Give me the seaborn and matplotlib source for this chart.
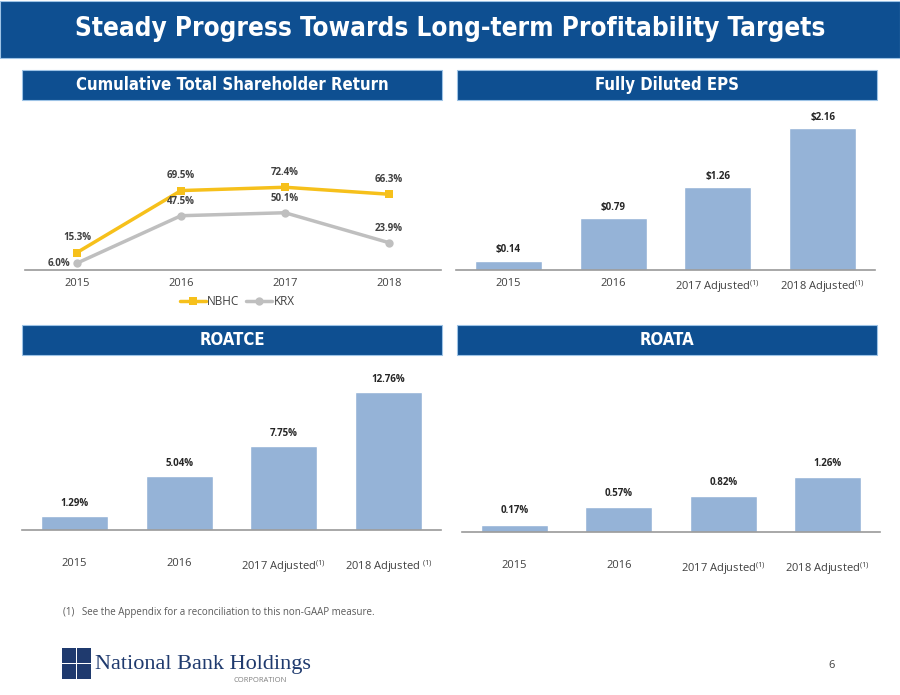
import matplotlib
matplotlib.use('Agg')
import matplotlib.pyplot as plt
from matplotlib.patches import Rectangle
import seaborn as sns
import pandas as pd

# Data
tsr_years = ['2015', '2016', '2017', '2018']
nbhc_tsr = [15.3, 69.5, 72.4, 66.3]
krx_tsr = [6.0, 47.5, 50.1, 23.9]

bar_years = ['2015', '2016', '2017 Adjusted', '2018 Adjusted']
eps = [0.14, 0.79, 1.26, 2.16]
roatce = [1.29, 5.04, 7.75, 12.76]
roata = [0.17, 0.57, 0.82, 1.26]

eps_ticks = ['2015', '2016', '2017 Adjusted$^{(1)}$', '2018 Adjusted$^{(1)}$']
roatce_ticks = ['2015', '2016', '2017 Adjusted$^{(1)}$', '2018 Adjusted $^{(1)}$']
roata_ticks = ['2015', '2016', '2017 Adjusted$^{(1)}$', '2018 Adjusted$^{(1)}$']

NAVY = '#0E4F91'
BAR = '#95B3D7'
GOLD = '#F6C01B'
GREY = '#BFBFBF'
AXIS = '#9A9A9A'
TXT = '#404040'

sns.set_theme(style='white')
plt.rcParams['font.family'] = ['Open Sans', 'DejaVu Sans']
plt.rcParams['mathtext.default'] = 'regular'

W, H = 900, 695
fig = plt.figure(figsize=(9, 6.95), dpi=100)


def box(x0, y0, x1, y1, label, size):
    # pixel coords from the top-left corner
    fig.patches.append(Rectangle((x0 / W, 1 - y1 / H), (x1 - x0) / W, (y1 - y0) / H,
                                 transform=fig.transFigure, facecolor=NAVY,
                                 edgecolor='#9DC3E6', linewidth=0.8))
    fig.text((x0 + x1) / 2 / W, 1 - (y0 + y1) / 2 / H, label, color='white',
             ha='center', va='center', fontsize=size, fontweight='bold',
             family='DejaVu Sans', fontstretch='condensed')


def axes_px(x0, y0, x1, y1):
    return fig.add_axes([x0 / W, 1 - y1 / H, (x1 - x0) / W, (y1 - y0) / H])


def style_axis(ax, pad):
    sns.despine(ax=ax, left=True)
    ax.spines['bottom'].set_color(AXIS)
    ax.spines['bottom'].set_linewidth(1.2)
    ax.set_yticks([])
    ax.set_xlabel('')
    ax.set_ylabel('')
    ax.tick_params(axis='x', length=0, pad=pad, labelsize=8, labelcolor=TXT)
    ax.set_facecolor('none')


# Banner and section headers
box(0, 1, 900, 58, 'Steady Progress Towards Long-term Profitability Targets', 18.7)
box(22, 70, 442, 100, 'Cumulative Total Shareholder Return', 12)
box(457, 70, 877, 100, 'Fully Diluted EPS', 12)
box(22, 325, 442, 355, 'ROATCE', 12)
box(457, 325, 877, 355, 'ROATA', 12)

# Cumulative TSR line chart
ax1 = axes_px(25, 150, 441, 270)
tsr = pd.DataFrame({'year': tsr_years * 2,
                    'value': nbhc_tsr + krx_tsr,
                    'series': ['NBHC'] * 4 + ['KRX'] * 4})
sns.lineplot(data=tsr, x='year', y='value', hue='series', style='series',
             palette={'NBHC': GOLD, 'KRX': GREY},
             markers={'NBHC': 's', 'KRX': 'o'}, dashes=False,
             linewidth=2.5, markersize=6, markeredgewidth=0, ax=ax1)
ax1.set_xlim(-0.5, 3.5)
ax1.set_ylim(0, 105)
style_axis(ax1, 6)
for i, v in enumerate(nbhc_tsr):
    ax1.annotate(f'{v:.1f}%', (i, v), xytext=(0, 7), textcoords='offset points',
                 ha='center', va='bottom', fontsize=7, fontweight='bold', color=TXT)
for i, v in enumerate(krx_tsr):
    if i == 0:
        ax1.annotate(f'{v:.1f}%', (i, v), xytext=(-5, 0), textcoords='offset points',
                     ha='right', va='center', fontsize=7, fontweight='bold', color=TXT)
    else:
        ax1.annotate(f'{v:.1f}%', (i, v), xytext=(0, 6), textcoords='offset points',
                     ha='center', va='bottom', fontsize=7, fontweight='bold', color=TXT)
leg = ax1.legend(loc='upper center', bbox_to_anchor=(0.51, -0.12), ncol=2,
                 frameon=False, fontsize=8.5, handlelength=2.2, columnspacing=0.6,
                 handletextpad=0.1)
for t in leg.get_texts():
    t.set_color(TXT)


def bar_panel(rect, values, ticks, ylim, fmt, pad, offset):
    ax = axes_px(*rect)
    df = pd.DataFrame({'year': bar_years, 'value': values})
    sns.barplot(data=df, x='year', y='value', color=BAR, saturation=1,
                width=0.64, ax=ax)
    ax.set_xlim(-0.5, 3.5)
    ax.set_ylim(*ylim)
    ax.set_xticks(range(len(ticks)))
    ax.set_xticklabels(ticks)
    style_axis(ax, pad)
    for i, v in enumerate(values):
        ax.annotate(fmt.format(v), (i, v), xytext=(0, offset), textcoords='offset points',
                    ha='center', va='bottom', fontsize=7, fontweight='bold',
                    color='#262626', annotation_clip=False)
    return ax


bar_panel((456, 106, 875, 270), eps, eps_ticks, (0, 2.5), '${:.2f}', 6, 4)
bar_panel((22, 368, 441, 530), roatce, roatce_ticks, (0, 15), '{:.2f}%', 20, 5)
bar_panel((462, 445, 880, 532), roata, roata_ticks, (0, 2.0), '{:.2f}%', 20, 6)

# Footnote
fig.text(63 / W, 1 - 612 / H, '(1)   See the Appendix for a reconciliation to this non-GAAP measure.',
         fontsize=7, color='#595959', va='center')

# Logo
for (lx, ly) in [(62, 648), (77, 648), (62, 664), (77, 664)]:
    fig.patches.append(Rectangle((lx / W, 1 - (ly + 15) / H), 14 / W, 15 / H,
                                 transform=fig.transFigure, facecolor='#1F3A6E',
                                 edgecolor='none'))
fig.text(95 / W, 1 - 665 / H, 'National Bank Holdings', fontsize=16,
         family='Liberation Serif', color='#1F3A6E', va='center')
fig.text(260 / W, 1 - 680 / H, 'CORPORATION', fontsize=5.5, color='#808080',
         va='center', ha='center')
fig.text(828 / W, 1 - 665 / H, '6', fontsize=8, color='#404040', va='center')

fig.savefig('out.png', dpi=100)
